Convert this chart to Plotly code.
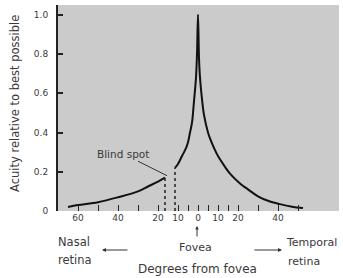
import plotly.graph_objects as go

# Data (degrees from fovea; negative = nasal retina)
nasal_deg = [-65, -60, -50, -40, -30, -25, -20, -16.5]
nasal_acuity = [0.02, 0.03, 0.045, 0.07, 0.10, 0.125, 0.15, 0.17]
central_deg = [-11.5, -10, -8, -6, -5, -4, -3, -2, -1, -0.5, 0, 0.5, 1, 2, 3, 5, 6, 8.5, 10, 13.5, 16, 21, 25, 30, 35, 41, 47, 52.5]
central_acuity = [0.22, 0.24, 0.28, 0.32, 0.35, 0.40, 0.45, 0.56, 0.68, 0.80, 1.0, 0.78, 0.68, 0.57, 0.49, 0.40, 0.37, 0.31, 0.28, 0.225, 0.19, 0.14, 0.11, 0.075, 0.052, 0.035, 0.022, 0.015]
blind_spot_edges = [-16.5, -11.5]
blind_spot_tops = [0.17, 0.22]

x_tickvals = [-60, -40, -20, -10, 0, 10, 20, 40]
x_ticktext = ["60", "40", "20", "10", "0", "10", "20", "40"]
x_minor = [-50, -30, -5, 5, 15, 30, 50]
y_tickvals = [0, 0.2, 0.4, 0.6, 0.8, 1.0]
y_ticktext = ["0", "0.2", "0.4", "0.6", "0.8", "1.0"]

FONT = "DejaVu Sans, sans-serif"
TXT = "#3a3a3a"

fig = go.Figure()
line_style = dict(color="#111111", width=2)
fig.add_trace(go.Scatter(x=nasal_deg, y=nasal_acuity, mode="lines", line=line_style, line_shape="spline", hoverinfo="skip"))
fig.add_trace(go.Scatter(x=central_deg, y=central_acuity, mode="lines", line=line_style, line_shape="spline", hoverinfo="skip"))
for xe, ye in zip(blind_spot_edges, blind_spot_tops):
    fig.add_trace(go.Scatter(x=[xe, xe], y=[0, ye], mode="lines",
                             line=dict(color="#222222", width=1.5, dash="dot"), hoverinfo="skip"))

# plot area in pixels: x 58..339, y 5..211
def px(xp):
    return (xp - 58) / 281.0

def py(yp):
    return (211 - yp) / 206.0

C = dict(xanchor="center", yanchor="middle")
L = dict(xanchor="left", yanchor="middle")
ann = []
ann.append(dict(x=px(15), y=py(104), xref="paper", yref="paper", text="Acuity relative to best possible",
                textangle=-90, showarrow=False, font=dict(size=11.5, color=TXT, family=FONT), **C))
ann.append(dict(x=-15.5, y=0.18, xref="x", yref="y", text="Blind spot", showarrow=True,
                arrowhead=0, arrowwidth=1, arrowcolor="#333333", ax=-44, ay=-22,
                font=dict(size=10.5, color=TXT, family=FONT)))
ann.append(dict(x=px(56), y=py(242), xref="paper", yref="paper", text="Nasal",
                showarrow=False, font=dict(size=11.5, color=TXT, family=FONT), **L))
ann.append(dict(x=px(56), y=py(260), xref="paper", yref="paper", text="retina",
                showarrow=False, font=dict(size=11.5, color=TXT, family=FONT), **L))
ann.append(dict(x=px(195), y=py(248), xref="paper", yref="paper", text="Fovea",
                showarrow=False, font=dict(size=11, color=TXT, family=FONT), **C))
ann.append(dict(x=px(284), y=py(242), xref="paper", yref="paper", text="Temporal",
                showarrow=False, font=dict(size=11, color=TXT, family=FONT), **L))
ann.append(dict(x=px(286), y=py(261), xref="paper", yref="paper", text="retina",
                showarrow=False, font=dict(size=11, color=TXT, family=FONT), **L))
ann.append(dict(x=px(197), y=py(269), xref="paper", yref="paper", text="Degrees from fovea",
                showarrow=False, font=dict(size=12, color=TXT, family=FONT), **C))
# arrows
ann.append(dict(x=px(102), y=py(250), xref="paper", yref="paper", ax=27, ay=0,
                text="", showarrow=True, arrowhead=2, arrowsize=0.8,
                arrowwidth=1, arrowcolor="#333333"))
ann.append(dict(x=px(282), y=py(250), xref="paper", yref="paper", ax=-29, ay=0,
                text="", showarrow=True, arrowhead=2, arrowsize=0.8,
                arrowwidth=1, arrowcolor="#333333"))
ann.append(dict(x=px(197), y=py(226), xref="paper", yref="paper", ax=0, ay=12,
                text="", showarrow=True, arrowhead=2, arrowsize=0.7,
                arrowwidth=1, arrowcolor="#333333"))

fig.update_layout(
    width=343, height=278,
    margin=dict(l=58, r=4, t=5, b=67),
    paper_bgcolor="white", plot_bgcolor="#cbcbcb",
    showlegend=False,
    annotations=ann,
    xaxis=dict(range=[-70, 70.5], tickvals=x_tickvals, ticktext=x_ticktext,
               ticks="inside", ticklen=6, tickcolor="#222222", tickwidth=1,
               minor=dict(tickvals=x_minor, ticks="inside", ticklen=6, tickcolor="#222222", tickwidth=1),
               showgrid=False, zeroline=False, showline=False, automargin=False,
               tickfont=dict(size=9, color=TXT, family=FONT)),
    yaxis=dict(range=[0, 1.05], tickvals=y_tickvals, ticktext=y_ticktext,
               ticks="inside", ticklen=5, tickcolor="#222222", tickwidth=2,
               showgrid=False, zeroline=False, showline=True, linecolor="#222222", linewidth=2,
               automargin=False,
               tickfont=dict(size=9, color=TXT, family=FONT), ticklabelstandoff=6),
)

fig.write_html("out.html", config={"displayModeBar": False},
               post_script="document.body.style.margin='0';document.body.style.overflow='hidden';")
